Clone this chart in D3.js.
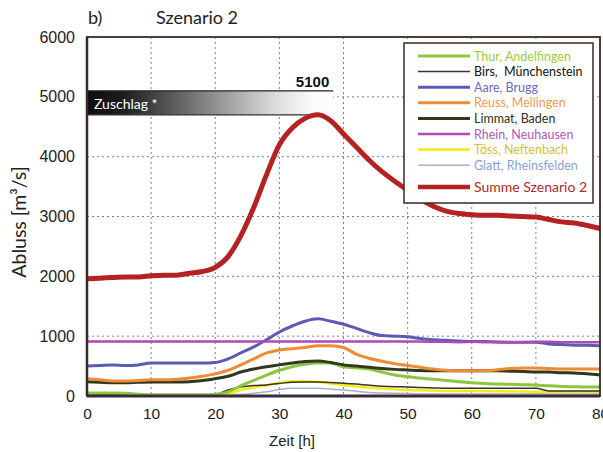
<!DOCTYPE html>
<html><head><meta charset="utf-8">
<script src="https://cdn.jsdelivr.net/npm/d3@7"></script>
<style>body{margin:0;background:#fff}svg{display:block}</style>
</head><body><svg id="c" width="603" height="452"></svg>
<script>
const hours = d3.range(0, 81, 2);
const seriesNames = ["Thur, Andelfingen","Birs,  Münchenstein","Aare, Brugg","Reuss, Mellingen","Limmat, Baden","Rhein, Neuhausen","Töss, Neftenbach","Glatt, Rheinsfelden","Summe Szenario 2"];
const thur   = [50,50,50,45,30,20,20,20,20,20,30,70,170,260,350,430,490,530,550,550,490,470,450,400,350,320,300,280,260,240,220,210,200,195,190,185,170,160,155,150,150];
const birs   = [15,15,15,15,15,15,15,15,15,15,25,100,150,175,185,210,230,235,235,225,215,200,180,165,155,150,140,135,130,130,130,130,130,130,130,130,85,85,85,85,85];
const aare   = [500,510,520,510,520,550,550,550,550,550,560,620,720,820,940,1070,1170,1250,1290,1250,1200,1130,1060,1010,1000,990,960,940,930,920,910,910,900,900,900,900,870,860,850,850,840];
const reuss  = [290,270,250,250,260,270,270,280,300,330,370,430,520,620,720,770,790,810,840,840,810,700,630,580,540,510,480,450,430,420,420,420,440,460,470,470,460,450,450,450,450];
const limmat = [240,230,220,220,230,235,235,235,240,260,290,330,400,450,490,520,550,575,585,560,520,500,480,460,445,435,425,420,420,420,420,420,420,415,410,400,400,390,385,370,350];
const rhein  = [910,910,910,910,910,910,910,910,910,910,910,910,910,910,910,910,910,910,910,910,910,910,910,910,910,910,910,905,905,900,905,900,905,900,900,905,905,900,900,900,900];
const toess  = [10,10,10,10,10,10,10,10,10,10,10,30,100,140,180,220,245,245,235,210,185,160,140,125,110,100,95,90,85,85,85,80,80,75,75,70,70,70,70,70,70];
const glatt  = [15,15,15,15,15,15,15,15,15,15,15,15,25,45,70,110,130,130,130,115,100,80,60,50,45,40,35,35,35,35,35,35,35,35,35,35,35,35,35,35,35];
const summe  = [1960,1970,1980,1990,1990,2010,2020,2020,2050,2080,2150,2330,2680,3150,3700,4200,4480,4640,4700,4600,4380,4160,3940,3750,3590,3440,3290,3170,3090,3050,3030,3020,3020,3010,3000,2990,2950,2910,2890,2850,2800];
const xTicks = [0,10,20,30,40,50,60,70,80];
const yTicks = [0,1000,2000,3000,4000,5000,6000];
const zuschlagLow = 4700, zuschlagHigh = 5100, zuschlagEnd = 38.4, peakTime = 36;

const colors = ["#8cc63e","#3a3030","#5b5bb5","#f08a35","#2f3a1c","#b048b5","#f2ee10","#a8b0c8","#b52222"];
const textColors = ["#9ccc3c","#111","#6a6abf","#f09a55","#2e3020","#b058b8","#d8c030","#8aa0d8","#b02828"];
const widths = [3,1.5,3,3,3,2.5,2.5,1.5,5];
const values = [thur,birs,aare,reuss,limmat,rhein,toess,glatt,summe];

const svg = d3.select("#c");
const L = 87, R = 600, T = 37, B = 396;
const x = d3.scaleLinear().domain([0,80]).range([L,R]);
const y = d3.scaleLinear().domain([0,6000]).range([B,T]);
const frame = "#3a2a24";

// grid
const g = svg.append("g");
g.selectAll("line.v").data(xTicks.slice(1,-1)).join("line")
  .attr("x1",d=>x(d)).attr("x2",d=>x(d)).attr("y1",T).attr("y2",B)
  .attr("stroke","#7c7c98").attr("stroke-width",1).attr("stroke-dasharray","2,3");
g.selectAll("line.h").data(yTicks.slice(1,-1)).join("line")
  .attr("x1",L).attr("x2",R).attr("y1",d=>y(d)).attr("y2",d=>y(d))
  .attr("stroke","#7c7c98").attr("stroke-width",1).attr("stroke-dasharray","2,3");

// Zuschlag bar
const defs = svg.append("defs");
const grad = defs.append("linearGradient").attr("id","zg");
[[0,"#0c0c0c"],[0.15,"#1e1e1e"],[0.45,"#7a7a7a"],[0.75,"#d8d8d8"],[0.9,"#f8f8f8"],[1,"#ffffff"]]
  .forEach(([o,c])=>grad.append("stop").attr("offset",o).attr("stop-color",c));
svg.append("rect").attr("x",x(0)).attr("y",y(zuschlagHigh)).attr("width",x(zuschlagEnd)-x(0))
  .attr("height",y(zuschlagLow)-y(zuschlagHigh)).attr("fill","url(#zg)");
svg.append("line").attr("x1",x(0)).attr("x2",x(zuschlagEnd)).attr("y1",y(zuschlagHigh)).attr("y2",y(zuschlagHigh))
  .attr("stroke","#222").attr("stroke-width",1.2);
svg.append("line").attr("x1",x(0)).attr("x2",x(peakTime)).attr("y1",y(zuschlagLow)).attr("y2",y(zuschlagLow))
  .attr("stroke","#3a2a24").attr("stroke-width",1.2);
svg.append("text").attr("x",x(0)+7).attr("y",y(zuschlagLow)-6).text("Zuschlag *")
  .attr("fill","#fff").attr("font-family","Lato").attr("font-size",14);
svg.append("text").attr("x",x(zuschlagEnd)-4).attr("y",y(zuschlagHigh)-4).attr("text-anchor","end")
  .text("5100").attr("font-family","Liberation Sans").attr("font-weight","bold").attr("font-size",15).attr("fill","#111");

// lines
const line = d3.line().x((d,i)=>x(hours[i])).y(d=>y(d)).curve(d3.curveMonotoneX);
const order = [7,6,1,0,4,3,2,5,8];
order.forEach(k=>{
  svg.append("path").attr("d",line(values[k])).attr("fill","none")
    .attr("stroke",colors[k]).attr("stroke-width",widths[k]).attr("stroke-linejoin","round");
});

// frame
svg.append("rect").attr("x",L).attr("y",T).attr("width",R-L).attr("height",B-T)
  .attr("fill","none").attr("stroke",frame).attr("stroke-width",1.8);
svg.append("line").attr("x1",L).attr("x2",L).attr("y1",T).attr("y2",B).attr("stroke",frame).attr("stroke-width",2.5);
svg.append("line").attr("x1",L).attr("x2",R).attr("y1",B).attr("y2",B).attr("stroke","#3a2c3c").attr("stroke-width",3);

// axes labels
const ax = svg.append("g").attr("transform",`translate(0,${B})`)
  .call(d3.axisBottom(x).tickValues(xTicks).tickSize(0).tickPadding(12).tickFormat(d3.format("d")));
ax.select(".domain").remove();
ax.selectAll("text").attr("font-family","Liberation Sans").attr("font-size",15.5).attr("fill","#222");
const ay = svg.append("g").attr("transform",`translate(${L},0)`)
  .call(d3.axisLeft(y).tickValues(yTicks).tickSize(0).tickPadding(12).tickFormat(d3.format("d")));
ay.select(".domain").remove();
ay.selectAll("text").attr("font-family","Liberation Sans").attr("font-size",16).attr("fill","#222");

svg.append("text").attr("x",292).attr("y",446).attr("text-anchor","middle").text("Zeit [h]")
  .attr("font-family","Liberation Sans").attr("font-size",15).attr("fill","#222");
svg.append("text").attr("transform","translate(26,222) rotate(-90)").attr("text-anchor","middle")
  .text("Abluss [m³/s]").attr("font-family","Lato").attr("font-size",19.5).attr("fill","#222");

// title
svg.append("text").attr("x",88).attr("y",24).text("b)").attr("font-family","Lato").attr("font-size",18).attr("fill","#222");
svg.append("text").attr("x",156).attr("y",24).text("Szenario 2").attr("font-family","Lato").attr("font-size",18).attr("fill","#222");

// legend
const lg = svg.append("g");
lg.append("rect").attr("x",404).attr("y",43).attr("width",189).attr("height",160)
  .attr("fill","#fff").attr("stroke",frame).attr("stroke-width",1.5);
seriesNames.forEach((n,i)=>{
  const yy = i < 8 ? 56 + i*15.6 : 187;
  lg.append("line").attr("x1",418).attr("x2",470).attr("y1",yy).attr("y2",yy)
    .attr("stroke",colors[i]).attr("stroke-width",widths[i] === 5 ? 4.5 : Math.max(widths[i],1.5));
  lg.append("text").attr("x",474).attr("y",yy+4.5).text(n).attr("fill",textColors[i])
    .attr("font-family","Lato").attr("font-size",i===8?14:12.5).attr("xml:space","preserve").style("white-space","pre");
});
</script></body></html>
